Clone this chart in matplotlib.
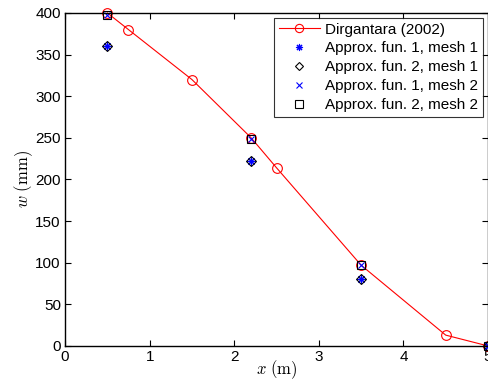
import matplotlib
matplotlib.use("Agg")
import matplotlib.pyplot as plt

plt.rcParams['font.family'] = ['Liberation Sans', 'DejaVu Sans']
plt.rcParams['mathtext.fontset'] = 'cm'

x_ref = [0.5, 0.75, 1.5, 2.2, 2.5, 3.5, 4.5, 5.0]
w_ref = [400, 380, 320, 250, 214, 97, 13, 0]

x_app = [0.5, 2.2, 3.5, 5.0]
w_f1_m1 = [360, 222, 80, 0]
w_f2_m1 = [360, 222, 80, 0]
w_f1_m2 = [398, 249, 97, 0]
w_f2_m2 = [398, 249, 97, 0]

fig = plt.figure(figsize=(4.89, 3.81), dpi=100)
ax = fig.add_axes([0.133, 0.092, 0.865, 0.874])

ax.plot(x_ref, w_ref, color='red', lw=0.8, marker='o', mfc='none', mec='red',
        ms=7, mew=0.8, label='Dirgantara (2002)', clip_on=False)
ax.plot(x_app, w_f1_m1, ls='none', marker=(8, 2, 0), color='blue', ms=6, mew=0.8,
        label='Approx. fun. 1, mesh 1', clip_on=False)
ax.plot(x_app, w_f2_m1, ls='none', marker='D', mfc='none', mec='black', ms=5, mew=0.8,
        label='Approx. fun. 2, mesh 1', clip_on=False)
ax.plot(x_app, w_f1_m2, ls='none', marker='x', color='blue', ms=5, mew=0.8,
        label='Approx. fun. 1, mesh 2', clip_on=False)
ax.plot(x_app, w_f2_m2, ls='none', marker='s', mfc='none', mec='black', ms=6, mew=0.8,
        label='Approx. fun. 2, mesh 2', clip_on=False)

ax.set_xlim(0, 5)
ax.set_ylim(0, 400)
ax.set_xticks([0, 1, 2, 3, 4, 5])
ax.set_yticks(range(0, 401, 50))
ax.tick_params(direction='in', top=True, right=True, labelsize=11, length=4, width=0.8, pad=3)
for s in ax.spines.values():
    s.set_linewidth(1.0)

ax.set_xlabel(r'$x\ (\mathrm{m})$', fontsize=12, labelpad=-4)
ax.set_ylabel(r'$w\ (\mathrm{mm})$', fontsize=12, labelpad=0)

leg = ax.legend(loc='upper right', fontsize=11, frameon=True, fancybox=False,
                edgecolor='black', borderpad=0.3, labelspacing=0.32, handlelength=2.7,
                handletextpad=0.35, borderaxespad=0.0, bbox_to_anchor=(0.988, 0.985),
                markerscale=0.85)
leg.get_frame().set_linewidth(0.8)

fig.savefig('out.png', dpi=100)
